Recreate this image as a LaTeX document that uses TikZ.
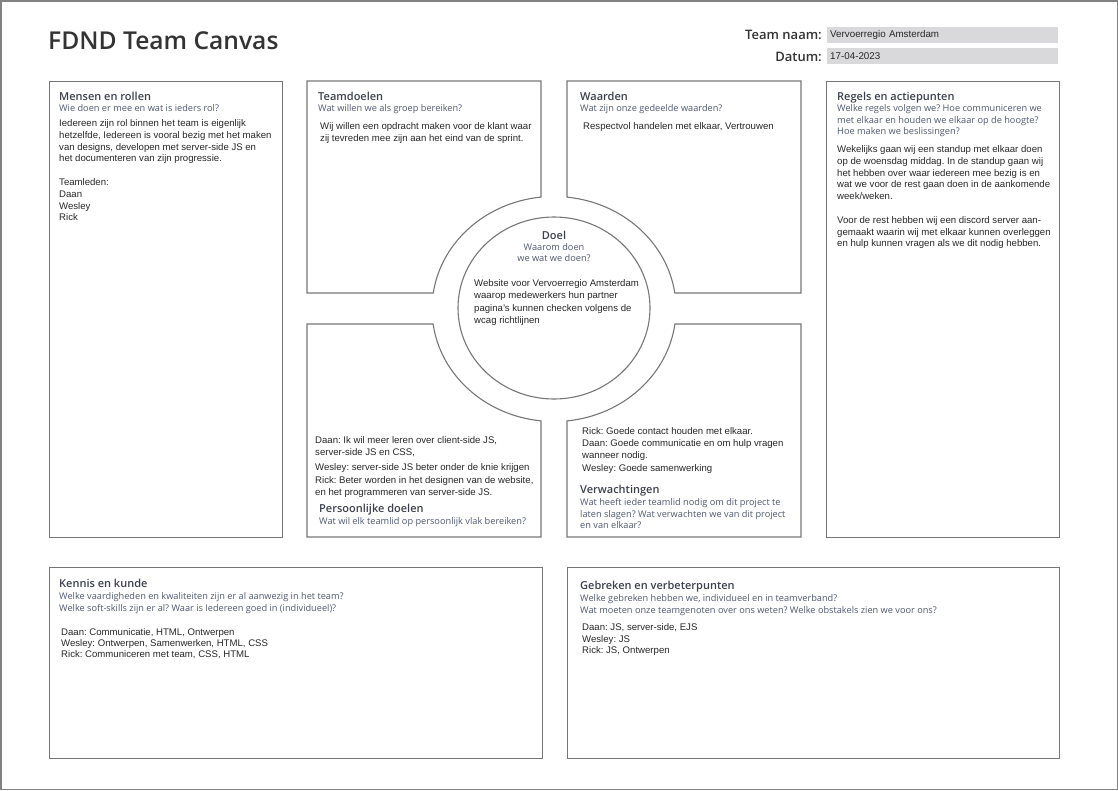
\documentclass[tikz,border=0pt]{standalone}
\usepackage{fontspec}
\setmainfont{Liberation Sans}
\newfontfamily\opensans{Open Sans}
\IfFontExistsTF{Open Sans SemiBold}{\newfontfamily\opensanssb{Open Sans SemiBold}}{%
  \IfFontExistsTF{Open Sans Semibold}{\newfontfamily\opensanssb{Open Sans Semibold}}{\newfontfamily\opensanssb{Open Sans}}}
\usepackage{tikz}
\usetikzlibrary{calc, positioning}
\usepackage{xcolor}
\definecolor{mframe}{RGB}{130,130,130}
\definecolor{mline}{RGB}{118,118,118}
\definecolor{mfield}{RGB}{217,217,219}
\definecolor{mtitle}{RGB}{51,51,51}
\definecolor{mhead}{RGB}{60,64,76}
\definecolor{mquest}{RGB}{80,88,112}
\frenchspacing

\begin{document}
\begin{tikzpicture}[x=1pt, y=-1pt,
    box/.style={draw=mline, line width=1.1pt},
    field/.style={fill=mfield, minimum width=231pt, minimum height=16pt, inner sep=3pt,
                  text width=225pt, align=left, anchor=west,
                  font=\fontsize{9.8}{11}\selectfont, text=black!85},
    label/.style={font=\opensanssb\fontsize{13}{15}\selectfont, text=mtitle, inner sep=0pt, anchor=base east},
    heading/.style={font=\opensanssb\fontsize{11}{13}\selectfont, text=mhead, inner sep=0pt, anchor=base west},
    question/.style={font=\opensans\fontsize{9.2}{11.5}\selectfont, text=mquest, inner sep=0pt, anchor=base west, align=left},
    bodytext/.style={font=\fontsize{9.6}{12}\selectfont, text=black!85, inner sep=0pt, anchor=base west, align=left},
]
\useasboundingbox (0,0) rectangle (1118,790);
\draw[mframe, line width=1.5pt] (0.75,0.75) rectangle (1117.25,789.25);

% header
\node[font=\opensanssb\fontsize{24.6}{28}\selectfont, text=mtitle, inner sep=0pt, anchor=base west] (title) at (48,49) {FDND Team Canvas};
\node[label] (teamlabel) at (822,39) {Team naam:};
\node[label] (datumlabel) at (822,61) {Datum:};
\node[field] (teamfield) at (827,35) {Vervoerregio Amsterdam};
\node[field] (datumfield) at (827,56) {17-04-2023};

% boxes
\node[box, minimum width=233pt, minimum height=456pt, anchor=north west] (mensenbox) at (48.5,81) {};
\node[box, minimum width=233pt, minimum height=456pt, anchor=north west] (regelsbox) at (826,81) {};
\node[box, minimum width=493pt, minimum height=191pt, anchor=north west] (kennisbox) at (48.5,566.5) {};
\node[box, minimum width=492pt, minimum height=191pt, anchor=north west] (gebrekenbox) at (567,566.5) {};

\draw[box] (307,81) -- (541,81) -- (541,197.1)
    arc[start angle=-96.12, end angle=-171.82, x radius=122, y radius=112.5] -- (307,293) -- cycle;
\draw[box] (567,197.1) -- (567,81) -- (801,81) -- (801,293) -- (674.8,293)
    arc[start angle=-8.18, end angle=-83.88, x radius=122, y radius=112.5] -- cycle;
\draw[box] (307,324) -- (433.1,324)
    arc[start angle=172.34, end angle=96.12, x radius=122, y radius=112.5] -- (541,537) -- (307,537) -- cycle;
\draw[box] (567,537) -- (567,420.9)
    arc[start angle=83.88, end angle=7.66, x radius=122, y radius=112.5] -- (801,324) -- (801,537) -- cycle;
\draw[box] (554,308) ellipse [x radius=96, y radius=91];

% Mensen en rollen
\node[heading] (mensen) at (59,100) {Mensen en rollen};
\node[question] (mensenq) at ([yshift=-11.5pt]mensen.base west) {Wie doen er mee en wat is ieders rol?};
\node[bodytext, font=\fontsize{9.6}{11.8}\selectfont] (mensent) at (59,220.9) {Iedereen zijn rol binnen het team is eigenlijk\\
    hetzelfde, Iedereen is vooral bezig met het maken\\
    van designs, developen met server-side JS en\\
    het documenteren van zijn progressie.\\[11.8pt]
    Teamleden:\\ Daan\\ Wesley\\ Rick};

% Teamdoelen
\node[heading] (teamdoelen) at (318,100) {Teamdoelen};
\node[question] (teamdoelenq) at ([yshift=-11.5pt]teamdoelen.base west) {Wat willen we als groep bereiken?};
\node[bodytext] (teamdoelent) at (320,141.5) {Wij willen een opdracht maken voor de klant waar\\
    zij tevreden mee zijn aan het eind van de sprint.};

% Waarden
\node[heading] (waarden) at (580,100) {Waarden};
\node[question] (waardenq) at ([yshift=-11.5pt]waarden.base west) {Wat zijn onze gedeelde waarden?};
\node[bodytext] (waardent) at (583,129.5) {Respectvol handelen met elkaar, Vertrouwen};

% Regels en actiepunten
\node[heading] (regels) at (837,100) {Regels en actiepunten};
\node[question] (regelsq) at ([yshift=-34.5pt]regels.base west) {Welke regels volgen we? Hoe communiceren we\\
    met elkaar en houden we elkaar op de hoogte?\\ Hoe maken we beslissingen?};
\node[bodytext, font=\fontsize{9.6}{11.8}\selectfont] (regelst) at (837,246.9) {Wekelijks gaan wij een standup met elkaar doen\\
    op de woensdag middag. In de standup gaan wij\\
    het hebben over waar iedereen mee bezig is en\\
    wat we voor de rest gaan doen in de aankomende\\
    week/weken.\\[11.8pt]
    Voor de rest hebben wij een discord server aan-\\
    gemaakt waarin wij met elkaar kunnen overleggen\\
    en hulp kunnen vragen als we dit nodig hebben.};

% Doel
\node[heading, anchor=base] (doel) at (554,239) {Doel};
\node[question, anchor=base, align=center, font=\opensans\fontsize{9.2}{11}\selectfont] (doelq) at ([yshift=-22.5pt]doel.base) {Waarom doen\\ we wat we doen?};
\node[bodytext, font=\fontsize{9.6}{12.3}\selectfont] (doelt) at (474,323.4) {Website voor Vervoerregio Amsterdam\\
    waarop medewerkers hun partner\\
    pagina's kunnen checken volgens de\\
    wcag richtlijnen};

% Persoonlijke doelen
\node[bodytext, font=\fontsize{9.6}{12.3}\selectfont] (persoonlijket) at (315,495.7) {Daan: Ik wil meer leren over client-side JS,\\
    server-side JS en CSS,\\[2pt]
    Wesley: server-side JS beter onder de knie krijgen\\[1pt]
    Rick: Beter worden in het designen van de website,\\
    en het programmeren van server-side JS.};
\node[heading] (persoonlijk) at (319,512) {Persoonlijke doelen};
\node[question] (persoonlijkq) at ([yshift=-12pt]persoonlijk.base west) {Wat wil elk teamlid op persoonlijk vlak bereiken?};

% Verwachtingen
\node[bodytext] (verwachtingent) at (582,471.5) {Rick: Goede contact houden met elkaar.\\
    Daan: Goede communicatie en om hulp vragen\\
    wanneer nodig.\\[1pt]
    Wesley: Goede samenwerking};
\node[heading] (verwachtingen) at (580,493) {Verwachtingen};
\node[question] (verwachtingenq) at ([yshift=-35.5pt]verwachtingen.base west) {Wat heeft ieder teamlid nodig om dit project te\\
    laten slagen? Wat verwachten we van dit project\\ en van elkaar?};

% Kennis en kunde
\node[heading] (kennis) at (59,587) {Kennis en kunde};
\node[question] (kennisq) at ([yshift=-24pt]kennis.base west) {Welke vaardigheden en kwaliteiten zijn er al aanwezig in het team?\\
    Welke soft-skills zijn er al? Waar is Iedereen goed in (individueel)?};
\node[bodytext, font=\fontsize{9.6}{11.2}\selectfont] (kennist) at (61,657.9) {Daan: Communicatie, HTML, Ontwerpen\\
    Wesley: Ontwerpen, Samenwerken, HTML, CSS\\
    Rick: Communiceren met team, CSS, HTML};

% Gebreken en verbeterpunten
\node[heading] (gebreken) at (580,589) {Gebreken en verbeterpunten};
\node[question] (gebrekenq) at ([yshift=-24pt]gebreken.base west) {Welke gebreken hebben we, individueel en in teamverband?\\
    Wat moeten onze teamgenoten over ons weten? Welke obstakels zien we voor ons?};
\node[bodytext, font=\fontsize{9.6}{11.5}\selectfont] (gebrekent) at (582,653.5) {Daan: JS, server-side, EJS\\
    Wesley: JS\\
    Rick: JS, Ontwerpen};

\end{tikzpicture}
\end{document}
